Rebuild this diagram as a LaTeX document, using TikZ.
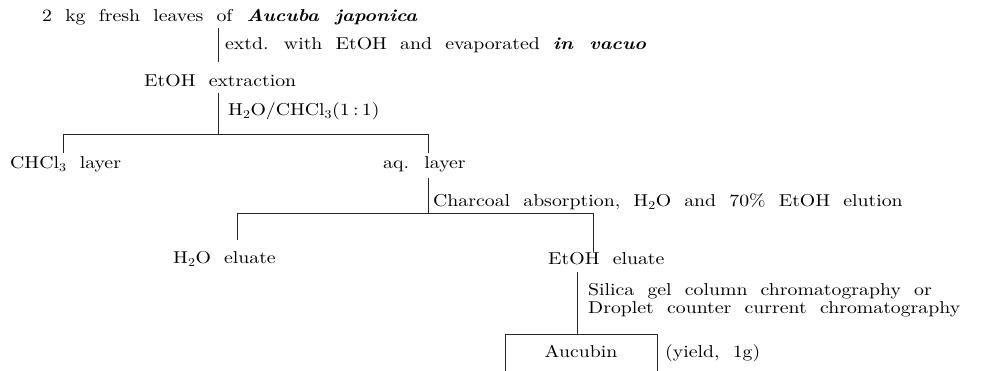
\documentclass[tikz,border=0pt]{standalone}
\usepackage{fontspec}
\usepackage{graphicx}
\setmainfont{lmroman10-regular.otf}[WordSpace=2.0,
  BoldFont=lmroman10-bold.otf, ItalicFont=lmroman10-italic.otf,
  BoldItalicFont=lmroman10-bolditalic.otf]
\newcommand{\sx}[1]{\scalebox{1.15}[1]{#1}}
\begin{document}
\begin{tikzpicture}[x=1pt,y=-1pt,
  txt/.style={anchor=base west,inner sep=0pt,font=\fontsize{17.2}{19}\selectfont},
  ln/.style={line width=0.8pt,black!85}]
\useasboundingbox (0,0) rectangle (994,371);
% texts
\node[txt] (start) at (42,22) {\sx{2 kg fresh leaves of \textbf{\textit{Aucuba japonica}}}};
\node[txt] (l1) at (225,50) {\sx{extd. with EtOH and evaporated \textbf{\textit{in vacuo}}}};
\node[txt] (etoh) at (144,87) {\sx{EtOH extraction}};
\node[txt] (l2) at (228,116) {\sx{H\textsubscript{2}O/CHCl\textsubscript{3}(1\,:\,1)}};
\node[txt] (chcl) at (10,169) {\sx{CHCl\textsubscript{3} layer}};
\node[txt] (aq) at (383,169) {\sx{aq. layer}};
\node[txt] (l3) at (433,207) {\sx{Charcoal absorption, H\textsubscript{2}O and 70\% EtOH elution}};
\node[txt] (h2o) at (173,264) {\sx{H\textsubscript{2}O eluate}};
\node[txt] (eel) at (548,265) {\sx{EtOH eluate}};
\node[txt] (l4a) at (588,296) {\sx{Silica gel column chromatography or}};
\node[txt] (l4b) at (588,314) {\sx{Droplet counter current chromatography}};
\node[txt,anchor=base] (auc) at (581,358) {\sx{Aucubin}};
\node[txt] (yld) at (665,358) {\sx{(yield, 1g)}};
% coordinates
\coordinate (a1) at (218,28);
\coordinate (a2) at (218,62);
\coordinate (b1) at (218,93);
\coordinate (b2) at (218,134);
\coordinate (hL) at (63,134);
\coordinate (hR) at (428,134);
\coordinate (hLd) at (63,153);
\coordinate (hRd) at (428,153);
\coordinate (c1) at (428,178);
\coordinate (c2) at (428,213);
\coordinate (gL) at (237,213);
\coordinate (gR) at (593,213);
\coordinate (gLd) at (237,240);
\coordinate (gRd) at (593,252);
\coordinate (d1) at (577,272);
\coordinate (d2) at (577,334);
\coordinate (bxL) at (505,334);
\coordinate (bxR) at (657,334);
\coordinate (bxLd) at (505,371);
\coordinate (bxRd) at (657,371);
% connectors
\draw[ln] (a1) -- (a2);
\draw[ln] (b1) -- (b2);
\draw[ln] (hLd) -- (hL) -- (hR) -- (hRd);
\draw[ln] (c1) -- (c2);
\draw[ln] (gLd) -- (gL) -- (gR) -- (gRd);
\draw[ln] (d1) -- (d2);
\draw[ln] (bxLd) -- (bxL) -- (bxR) -- (bxRd);
\end{tikzpicture}
\end{document}
